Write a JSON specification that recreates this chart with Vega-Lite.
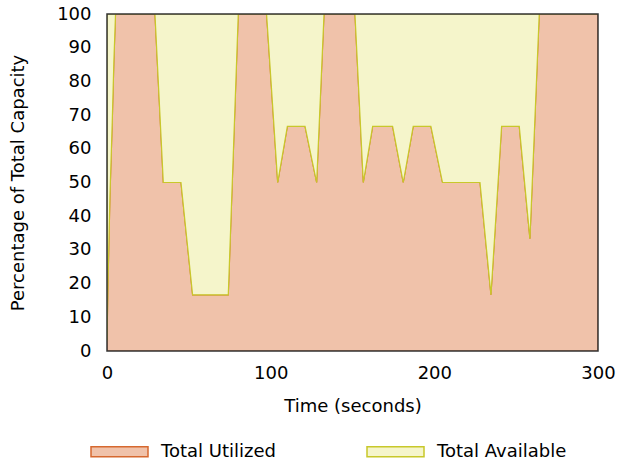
{
  "$schema": "https://vega.github.io/schema/vega-lite/v6.json",
  "width": 491,
  "height": 337,
  "autosize": {"type": "none"},
  "padding": {"left": 107, "top": 14, "right": 20, "bottom": 110},
  "background": "white",
  "config": {
    "font": "DejaVu Sans",
    "view": {"stroke": null},
    "axis": {"grid": false, "ticks": false, "tickSize": 0, "domain": false, "labelOverlap": false, "labelFlush": false, "labelFont": "DejaVu Sans", "labelFontSize": 18, "labelColor": "#000", "titleFont": "DejaVu Sans", "titleFontSize": 18, "titleFontWeight": "normal", "titleColor": "#000"}
  },
  "data": {
    "values": [
      {"t": 0, "s": "Total Utilized", "lo": 0, "hi": 3},
      {"t": 0.6, "s": "Total Utilized", "lo": 0, "hi": 20},
      {"t": 1.8, "s": "Total Utilized", "lo": 0, "hi": 46},
      {"t": 3.2, "s": "Total Utilized", "lo": 0, "hi": 68},
      {"t": 4.2, "s": "Total Utilized", "lo": 0, "hi": 86},
      {"t": 5.2, "s": "Total Utilized", "lo": 0, "hi": 100},
      {"t": 29.3, "s": "Total Utilized", "lo": 0, "hi": 100},
      {"t": 34.4, "s": "Total Utilized", "lo": 0, "hi": 50},
      {"t": 45.2, "s": "Total Utilized", "lo": 0, "hi": 50},
      {"t": 52.3, "s": "Total Utilized", "lo": 0, "hi": 16.67},
      {"t": 74.1, "s": "Total Utilized", "lo": 0, "hi": 16.67},
      {"t": 80.2, "s": "Total Utilized", "lo": 0, "hi": 100},
      {"t": 97.5, "s": "Total Utilized", "lo": 0, "hi": 100},
      {"t": 104.3, "s": "Total Utilized", "lo": 0, "hi": 50},
      {"t": 110.2, "s": "Total Utilized", "lo": 0, "hi": 66.67},
      {"t": 121, "s": "Total Utilized", "lo": 0, "hi": 66.67},
      {"t": 128.1, "s": "Total Utilized", "lo": 0, "hi": 50},
      {"t": 132.6, "s": "Total Utilized", "lo": 0, "hi": 100},
      {"t": 151.5, "s": "Total Utilized", "lo": 0, "hi": 100},
      {"t": 156.6, "s": "Total Utilized", "lo": 0, "hi": 50},
      {"t": 162.3, "s": "Total Utilized", "lo": 0, "hi": 66.67},
      {"t": 174.5, "s": "Total Utilized", "lo": 0, "hi": 66.67},
      {"t": 181, "s": "Total Utilized", "lo": 0, "hi": 50},
      {"t": 187.1, "s": "Total Utilized", "lo": 0, "hi": 66.67},
      {"t": 197.9, "s": "Total Utilized", "lo": 0, "hi": 66.67},
      {"t": 205, "s": "Total Utilized", "lo": 0, "hi": 50},
      {"t": 227.9, "s": "Total Utilized", "lo": 0, "hi": 50},
      {"t": 234.6, "s": "Total Utilized", "lo": 0, "hi": 16.67},
      {"t": 241.1, "s": "Total Utilized", "lo": 0, "hi": 66.67},
      {"t": 251.9, "s": "Total Utilized", "lo": 0, "hi": 66.67},
      {"t": 258.4, "s": "Total Utilized", "lo": 0, "hi": 33.33},
      {"t": 264.1, "s": "Total Utilized", "lo": 0, "hi": 100},
      {"t": 300, "s": "Total Utilized", "lo": 0, "hi": 100},
      {"t": 0, "s": "Total Available", "lo": 3, "hi": 100},
      {"t": 0.6, "s": "Total Available", "lo": 20, "hi": 100},
      {"t": 1.8, "s": "Total Available", "lo": 46, "hi": 100},
      {"t": 3.2, "s": "Total Available", "lo": 68, "hi": 100},
      {"t": 4.2, "s": "Total Available", "lo": 86, "hi": 100},
      {"t": 5.2, "s": "Total Available", "lo": 100, "hi": 100},
      {"t": 29.3, "s": "Total Available", "lo": 100, "hi": 100},
      {"t": 34.4, "s": "Total Available", "lo": 50, "hi": 100},
      {"t": 45.2, "s": "Total Available", "lo": 50, "hi": 100},
      {"t": 52.3, "s": "Total Available", "lo": 16.67, "hi": 100},
      {"t": 74.1, "s": "Total Available", "lo": 16.67, "hi": 100},
      {"t": 80.2, "s": "Total Available", "lo": 100, "hi": 100},
      {"t": 97.5, "s": "Total Available", "lo": 100, "hi": 100},
      {"t": 104.3, "s": "Total Available", "lo": 50, "hi": 100},
      {"t": 110.2, "s": "Total Available", "lo": 66.67, "hi": 100},
      {"t": 121, "s": "Total Available", "lo": 66.67, "hi": 100},
      {"t": 128.1, "s": "Total Available", "lo": 50, "hi": 100},
      {"t": 132.6, "s": "Total Available", "lo": 100, "hi": 100},
      {"t": 151.5, "s": "Total Available", "lo": 100, "hi": 100},
      {"t": 156.6, "s": "Total Available", "lo": 50, "hi": 100},
      {"t": 162.3, "s": "Total Available", "lo": 66.67, "hi": 100},
      {"t": 174.5, "s": "Total Available", "lo": 66.67, "hi": 100},
      {"t": 181, "s": "Total Available", "lo": 50, "hi": 100},
      {"t": 187.1, "s": "Total Available", "lo": 66.67, "hi": 100},
      {"t": 197.9, "s": "Total Available", "lo": 66.67, "hi": 100},
      {"t": 205, "s": "Total Available", "lo": 50, "hi": 100},
      {"t": 227.9, "s": "Total Available", "lo": 50, "hi": 100},
      {"t": 234.6, "s": "Total Available", "lo": 16.67, "hi": 100},
      {"t": 241.1, "s": "Total Available", "lo": 66.67, "hi": 100},
      {"t": 251.9, "s": "Total Available", "lo": 66.67, "hi": 100},
      {"t": 258.4, "s": "Total Available", "lo": 33.33, "hi": 100},
      {"t": 264.1, "s": "Total Available", "lo": 100, "hi": 100},
      {"t": 300, "s": "Total Available", "lo": 100, "hi": 100}
    ]
  },
  "layer": [
    {
      "mark": {"type": "area", "strokeWidth": 1.2, "clip": true},
      "encoding": {
        "x": {"field": "t", "type": "quantitative", "scale": {"domain": [0, 300], "nice": false},
              "axis": {"values": [0, 100, 200, 300], "title": "Time (seconds)", "labelPadding": 13, "titleY": 60.5, "titleBaseline": "alphabetic", "titleAnchor": "middle"}},
        "y": {"field": "hi", "type": "quantitative", "scale": {"domain": [0, 100], "nice": false},
              "axis": {"values": [0, 10, 20, 30, 40, 50, 60, 70, 80, 90, 100], "title": "Percentage of Total Capacity", "labelPadding": 16, "titleX": -84, "titleY": 168.5, "titleAngle": -90, "titleBaseline": "alphabetic", "titleAlign": "center"}},
        "y2": {"field": "lo"},
        "fill": {"field": "s", "type": "nominal", "sort": ["Total Utilized", "Total Available"],
                 "scale": {"domain": ["Total Utilized", "Total Available"], "range": ["#f0c2aa", "#f5f5cb"]},
                 "legend": {"orient": "none", "legendX": -17, "legendY": 408, "direction": "horizontal", "columns": 2, "title": null, "padding": 0,
                            "symbolType": "M-1,-0.175H1V0.175H-1Z", "symbolSize": 3249, "symbolStrokeWidth": 1.5,
                            "labelFont": "DejaVu Sans", "labelFontSize": 18, "labelColor": "#000", "labelOffset": 12, "columnPadding": 88}},
        "stroke": {"field": "s", "type": "nominal", "sort": ["Total Utilized", "Total Available"],
                   "scale": {"domain": ["Total Utilized", "Total Available"], "range": ["#d6682f", "#c8c82a"]},
                   "legend": {"orient": "none", "legendX": -17, "legendY": 408, "direction": "horizontal", "columns": 2, "title": null, "padding": 0,
                              "symbolType": "M-1,-0.175H1V0.175H-1Z", "symbolSize": 3249, "symbolStrokeWidth": 1.5,
                              "labelFont": "DejaVu Sans", "labelFontSize": 18, "labelColor": "#000", "labelOffset": 12, "columnPadding": 88}}
      }
    },
    {
      "data": {"values": [{}]},
      "mark": {"type": "rect", "filled": false, "stroke": "#333333", "strokeWidth": 1.5},
      "encoding": {
        "x": {"datum": 0, "type": "quantitative",
              "axis": {"values": [0, 100, 200, 300], "title": "Time (seconds)", "labelPadding": 13, "titleY": 60.5, "titleBaseline": "alphabetic", "titleAnchor": "middle"}},
        "x2": {"datum": 300},
        "y": {"datum": 0, "type": "quantitative",
              "axis": {"values": [0, 10, 20, 30, 40, 50, 60, 70, 80, 90, 100], "title": "Percentage of Total Capacity", "labelPadding": 16, "titleX": -84, "titleY": 168.5, "titleAngle": -90, "titleBaseline": "alphabetic", "titleAlign": "center"}},
        "y2": {"datum": 100}
      }
    }
  ]
}
